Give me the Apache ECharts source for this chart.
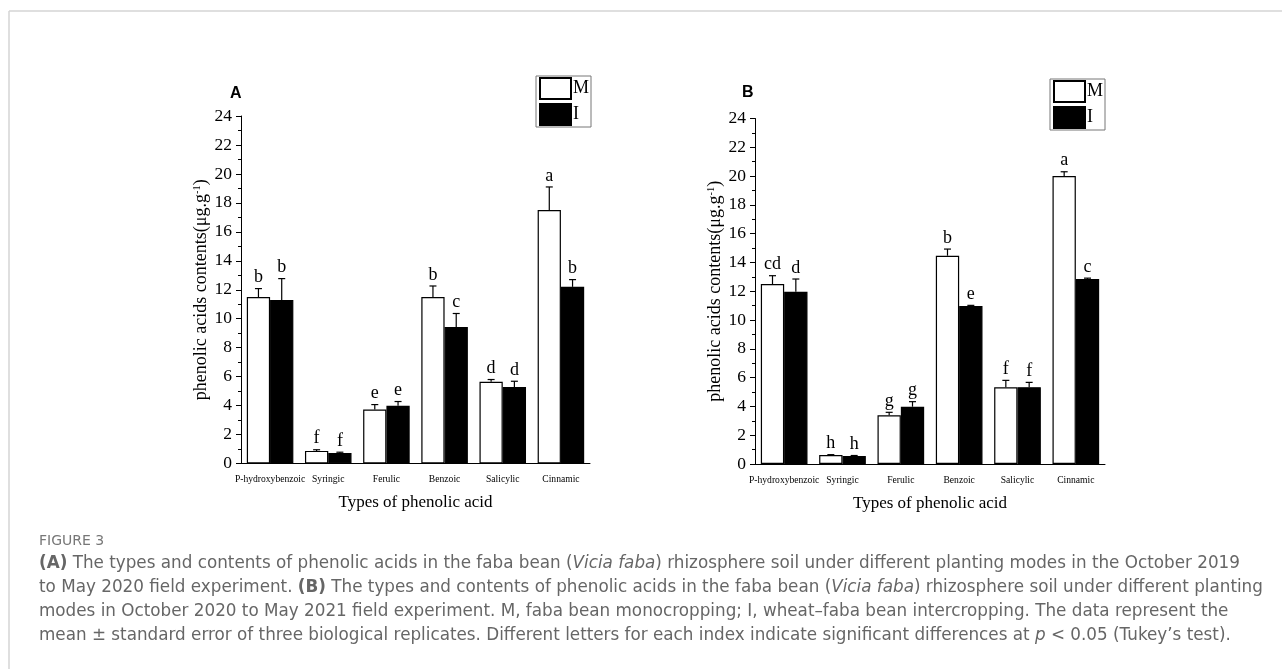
<!DOCTYPE html>
<html>
<head>
<meta charset="utf-8">
<script src="https://cdn.jsdelivr.net/npm/echarts@6/dist/echarts.min.js"></script>
<style>
html,body{margin:0;padding:0;background:#fff;}
#chart{width:1282px;height:669px;}
</style>
</head>
<body>
<div id="chart"></div>
<script>
// ---------- data ----------
const categories = ['P-hydroxybenzoic', 'Syringic', 'Ferulic', 'Benzoic', 'Salicylic', 'Cinnamic'];
const yTicks = [0, 2, 4, 6, 8, 10, 12, 14, 16, 18, 20, 22, 24];

// Panel A (Oct 2019 – May 2020)
const aM = [11.5, 0.87, 3.73, 11.5, 5.64, 17.5];
const aMErr = [0.58, 0.08, 0.34, 0.76, 0.16, 1.6];
const aI = [11.3, 0.73, 3.98, 9.43, 5.29, 12.2];
const aIErr = [1.47, 0.05, 0.3, 0.93, 0.39, 0.5];
const aMLetters = ['b', 'f', 'e', 'b', 'd', 'a'];
const aILetters = ['b', 'f', 'e', 'c', 'd', 'b'];

// Panel B (Oct 2020 – May 2021)
const bM = [12.5, 0.62, 3.38, 14.47, 5.33, 20.0];
const bMErr = [0.58, 0.03, 0.21, 0.46, 0.48, 0.3];
const bI = [11.97, 0.56, 3.98, 10.97, 5.33, 12.85];
const bIErr = [0.88, 0.03, 0.35, 0.05, 0.34, 0.06];
const bMLetters = ['cd', 'h', 'g', 'b', 'f', 'a'];
const bILetters = ['d', 'h', 'g', 'e', 'f', 'c'];

const seriesNames = ['M', 'I'];
const panelLabels = ['A', 'B'];
const xTitle = 'Types of phenolic acid';
const yTitle = 'phenolic acids contents(μg.g{sup|-1})';

const captionHead = 'FIGURE 3';
const captionLines = [
  '{b|(A)} The types and contents of phenolic acids in the faba bean ({i|Vicia faba}) rhizosphere soil under different planting modes in the October 2019',
  'to May 2020 field experiment. {b|(B)} The types and contents of phenolic acids in the faba bean ({i|Vicia faba}) rhizosphere soil under different planting',
  'modes in October 2020 to May 2021 field experiment. M, faba bean monocropping; I, wheat\u2013faba bean intercropping. The data represent the',
  'mean {u|\u00b1} standard error of three biological replicates. Different letters for each index indicate significant differences at {i|p} < 0.05 (Tukey\u2019s test).'
];

// ---------- styling ----------
const SERIF = "'Times New Roman','Liberation Serif',serif";
const SANS = "'Liberation Sans',Arial,sans-serif";
const CAP = "'DejaVu Sans',sans-serif";
const capSize = 16.8;
const capColor = '#666';

const grids = [
  {left: 241, top: 116, width: 349, height: 347.5},
  {left: 755, top: 118.5, width: 350, height: 345.5}
];

function xAxisDef(gi) {
  return {
    type: 'category', gridIndex: gi, data: categories,
    axisLine: {lineStyle: {color: '#000', width: 1}},
    axisTick: {show: false},
    axisLabel: {interval: 0, color: '#000', fontFamily: SERIF, fontSize: 9.6, margin: 11},
    name: xTitle, nameLocation: 'middle', nameGap: 31,
    nameTextStyle: {color: '#000', fontFamily: SERIF, fontSize: 17}
  };
}
function yAxisDef(gi) {
  return {
    type: 'value', gridIndex: gi, min: 0, max: 24, interval: 2,
    axisLine: {show: true, lineStyle: {color: '#000', width: 1}},
    axisTick: {show: true, length: 5, lineStyle: {color: '#000'}},
    minorTick: {show: true, splitNumber: 2, length: 3, lineStyle: {color: '#000'}},
    splitLine: {show: false},
    axisLabel: {color: '#000', fontFamily: SERIF, fontSize: 17.5, margin: 9,
      customValues: yTicks},
    name: yTitle, nameLocation: 'middle', nameGap: 31, nameRotate: 90,
    nameTextStyle: {color: '#000', fontFamily: SERIF, fontSize: 18,
      rich: {sup: {fontFamily: SERIF, fontSize: 10.5, color: '#000', verticalAlign: 'top', padding: [0, 0, 7, 0]}}}
  };
}

function barSeries(name, gi, vals, white) {
  return {
    name: name, type: 'bar', xAxisIndex: gi, yAxisIndex: gi,
    data: vals, barWidth: '40%', barGap: '0%',
    itemStyle: white ? {color: '#fff', borderColor: '#000', borderWidth: 1.2}
                     : {color: '#000', borderColor: '#000', borderWidth: 1.2},
    emphasis: {disabled: true}, z: 2
  };
}
function errSeries(gi, vals, errs, letters, side) {
  return {
    type: 'custom', xAxisIndex: gi, yAxisIndex: gi, z: 5, silent: true,
    data: vals.map((v, i) => [i, v, errs[i]]),
    renderItem: function (params, api) {
      const idx = api.value(0), v = api.value(1), e = api.value(2);
      const base = api.coord([idx, v]);
      const top = api.coord([idx, v + e]);
      const bw = api.size([1, 0])[0];
      const x = base[0] + side * 0.2 * bw;
      return {
        type: 'group',
        children: [
          {type: 'line', shape: {x1: x, y1: base[1], x2: x, y2: top[1]}, style: {stroke: '#000', lineWidth: 1.2}},
          {type: 'line', shape: {x1: x - 3.5, y1: top[1], x2: x + 3.5, y2: top[1]}, style: {stroke: '#000', lineWidth: 1.2}},
          {type: 'text', x: x, y: top[1] - 2, style: {text: letters[idx], fill: '#000', fontFamily: SERIF, fontSize: 18, align: 'center', verticalAlign: 'bottom'}}
        ]
      };
    }
  };
}

function legendDef(left, top) {
  return {
    data: seriesNames, left: left, top: top, orient: 'vertical', icon: 'rect',
    itemWidth: 31, itemHeight: 21, itemGap: 3, padding: [1, 2, 1, 3],
    borderColor: '#777', borderWidth: 1, selectedMode: false,
    textStyle: {color: '#000', fontFamily: SERIF, fontSize: 18, padding: [0, 0, 0, -3]}
  };
}

const richCap = {
  b: {fontFamily: CAP, fontSize: capSize, fill: capColor, color: capColor, fontWeight: 'bold'},
  i: {fontFamily: CAP, fontSize: capSize, fill: capColor, color: capColor, fontStyle: 'italic'},
  u: {fontFamily: CAP, fontSize: capSize, fill: capColor, color: capColor}
};
const capYs = [564, 588, 612, 636];

const graphics = [
  {type: 'line', shape: {x1: 9, y1: 11, x2: 1282, y2: 11}, style: {stroke: '#d4d4d4', lineWidth: 1.5}, silent: true},
  {type: 'line', shape: {x1: 9, y1: 11, x2: 9, y2: 669}, style: {stroke: '#d4d4d4', lineWidth: 1.5}, silent: true},
  {type: 'text', x: 230, y: 94, style: {text: panelLabels[0], fontFamily: SANS, fontWeight: 'bold', fontSize: 16, fill: '#000', verticalAlign: 'middle'}},
  {type: 'text', x: 742, y: 93, style: {text: panelLabels[1], fontFamily: SANS, fontWeight: 'bold', fontSize: 16, fill: '#000', verticalAlign: 'middle'}},
  {type: 'text', x: 39, y: 541, style: {text: captionHead, fontFamily: CAP, fontWeight: 'normal', fontSize: 14, fill: '#777', verticalAlign: 'middle'}}
];
captionLines.forEach((t, k) => {
  graphics.push({type: 'text', x: 39, y: capYs[k], style: {text: t, rich: richCap, fontFamily: CAP, fontSize: capSize, fill: capColor, verticalAlign: 'middle'}});
});

const option = {
  backgroundColor: '#fff',
  animation: false,
  grid: grids,
  xAxis: [xAxisDef(0), xAxisDef(1)],
  yAxis: [yAxisDef(0), yAxisDef(1)],
  legend: [legendDef(536, 76), legendDef(1050, 79)],
  series: [
    barSeries(seriesNames[0], 0, aM, true),
    barSeries(seriesNames[1], 0, aI, false),
    errSeries(0, aM, aMErr, aMLetters, -1),
    errSeries(0, aI, aIErr, aILetters, 1),
    barSeries(seriesNames[0], 1, bM, true),
    barSeries(seriesNames[1], 1, bI, false),
    errSeries(1, bM, bMErr, bMLetters, -1),
    errSeries(1, bI, bIErr, bILetters, 1)
  ],
  graphic: graphics
};

const chart = echarts.init(document.getElementById('chart'), null, {renderer: 'canvas'});
chart.setOption(option);
</script>
</body>
</html>
